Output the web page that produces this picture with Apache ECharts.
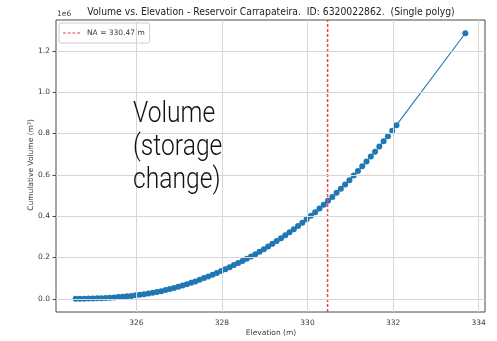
<!DOCTYPE html>
<html><head><meta charset="utf-8">
<script src="https://cdn.jsdelivr.net/npm/echarts@6/dist/echarts.min.js"></script>
<style>html,body{margin:0;padding:0;background:#fff}#c{width:497px;height:341px}</style>
</head><body><div id="c"></div>
<script>
const elevation = [
324.58,324.68,324.78,324.88,324.98,
325.08,325.18,325.28,325.38,325.48,
325.58,325.68,325.78,325.88,325.98,
326.08,326.18,326.28,326.38,326.48,
326.58,326.68,326.78,326.88,326.98,
327.08,327.18,327.28,327.38,327.48,
327.58,327.68,327.78,327.88,327.98,
328.08,328.18,328.28,328.38,328.48,
328.58,328.68,328.78,328.88,328.98,
329.08,329.18,329.28,329.38,329.48,
329.58,329.68,329.78,329.88,329.98,
330.08,330.18,330.28,330.38,330.48,
330.58,330.68,330.78,330.88,330.98,
331.08,331.18,331.28,331.38,331.48,
331.58,331.68,331.78,331.88,331.98,
332.08,
333.69];
const volume1e6 = [
0.000,0.000,0.000,0.001,0.001,
0.002,0.003,0.004,0.005,0.0065,
0.008,0.010,0.012,0.014,0.0165,
0.019,0.022,0.025,0.029,0.033,
0.037,0.042,0.047,0.052,0.058,
0.064,0.070,0.077,0.084,0.092,
0.100,0.108,0.116,0.125,0.134,
0.143,0.153,0.163,0.173,0.183,
0.194,0.205,0.216,0.228,0.240,
0.253,0.266,0.279,0.293,0.307,
0.322,0.337,0.352,0.368,0.385,
0.402,0.419,0.437,0.455,0.474,
0.493,0.513,0.533,0.553,0.574,
0.596,0.618,0.641,0.664,0.688,
0.712,0.737,0.762,0.787,0.813,
0.840,
1.285];
const naLevel = 330.47;
const naLabel = 'NA = 330.47 m';
const xTicks = [326, 328, 330, 332, 334];
const yTicks = [0.0, 0.2, 0.4, 0.6, 0.8, 1.0, 1.2];
const xRange = [324.12, 334.15];
const yRange = [-0.064, 1.349];
const titleText = 'Volume vs. Elevation - Reservoir Carrapateira.  ID: 6320022862.  (Single polyg)';
const xName = 'Elevation (m)';
const yName = 'Cumulative Volume (m³)';
const overlayText = 'Volume\n(storage\nchange)';

const chart = echarts.init(document.getElementById('c'), null, {renderer:'canvas'});
const fontFam = 'DejaVu Sans';
const txtColor = '#3a3a3a';
const naColor = '#e8434a';
chart.setOption({
  animation:false,
  backgroundColor:'#fff',
  grid:{left:56, top:20, right:12, bottom:29, containLabel:false, outerBoundsMode:'none', show:true, borderColor:'#4a4a4a', borderWidth:1, backgroundColor:'transparent'},
  legend:{
    data:[{name:naLabel, icon:'path://M0,0h3v1h-3z M5,0h3v1h-3z M10,0h3v1h-3z M15,0h3v1h-3z', itemStyle:{color:naColor}}],
    left:59, top:23, orient:'vertical',
    backgroundColor:'#fff', borderColor:'#cccccc', borderWidth:1, borderRadius:2,
    padding:[6,5,6,4], itemWidth:17, itemHeight:1.5, itemGap:4,
    textStyle:{fontFamily:fontFam, fontSize:7.5, color:txtColor, padding:[0,0,0,2]}
  },
  xAxis:{
    type:'value', min:xRange[0], max:xRange[1],
    axisLine:{show:false},
    axisTick:{show:true, inside:false, length:3.5, lineStyle:{color:'#4a4a4a'}, customValues:xTicks},
    axisLabel:{customValues:xTicks, fontFamily:fontFam, fontSize:7.5, color:txtColor, margin:7, formatter:v=>String(v)},
    splitLine:{show:false}
  },
  yAxis:{
    type:'value', min:yRange[0], max:yRange[1],
    axisLine:{show:false},
    axisTick:{show:true, inside:false, length:3.5, lineStyle:{color:'#4a4a4a'}, customValues:yTicks},
    axisLabel:{customValues:yTicks, fontFamily:fontFam, fontSize:7.5, color:txtColor, margin:6, formatter:v=>v.toFixed(1)},
    splitLine:{show:false}
  },
  series:[
    {
      type:'line', name:'grid', silent:true, data:[], symbol:'none',
      markLine:{
        silent:true, symbol:'none', animation:false, label:{show:false},
        lineStyle:{color:'#d6d6d6', width:1, type:'solid'},
        data: xTicks.map(v=>({xAxis:v})).concat(yTicks.map(v=>({yAxis:v})))
      },
      z:1
    },
    {
      type:'line', name:'volume', data: elevation.map((e,i)=>[e, volume1e6[i]]),
      symbol:'circle', symbolSize:6, showAllSymbol:true,
      itemStyle:{color:'#1f77b4'}, lineStyle:{color:'#1f77b4', width:1.1}, z:3
    },
    {
      type:'line', name:naLabel, data:[[naLevel, yRange[0]],[naLevel, yRange[1]]],
      symbol:'none', itemStyle:{color:naColor},
      lineStyle:{color:naColor, width:1.5, type:[3,2]}, z:4
    }
  ],
  graphic:[
    {type:'text', x:271, y:12, scaleX:0.9, style:{x:0,y:0,text:titleText, fontFamily:fontFam, fontSize:10.3, fill:'#222', textAlign:'center', textVerticalAlign:'middle'}},
    {type:'text', x:57, y:14, style:{text:'1e6', fontFamily:fontFam, fontSize:7.5, fill:txtColor, textAlign:'left', textVerticalAlign:'middle'}},
    {type:'text', x:271, y:333, style:{text:xName, fontFamily:fontFam, fontSize:7.5, fill:txtColor, textAlign:'center', textVerticalAlign:'middle'}},
    {type:'text', x:31.5, y:165, rotation:Math.PI/2, style:{x:0,y:0,text:yName, fontFamily:fontFam, fontSize:7.5, fill:txtColor, textAlign:'center', textVerticalAlign:'middle'}},
    {type:'text', x:133, y:98, scaleX:0.85, z:10, style:{x:0,y:0,text:overlayText, fontFamily:'Roboto', fontWeight:300, fontSize:29, lineHeight:33, fill:'#111', textAlign:'left', textVerticalAlign:'top'}}
  ]
});
</script></body></html>
